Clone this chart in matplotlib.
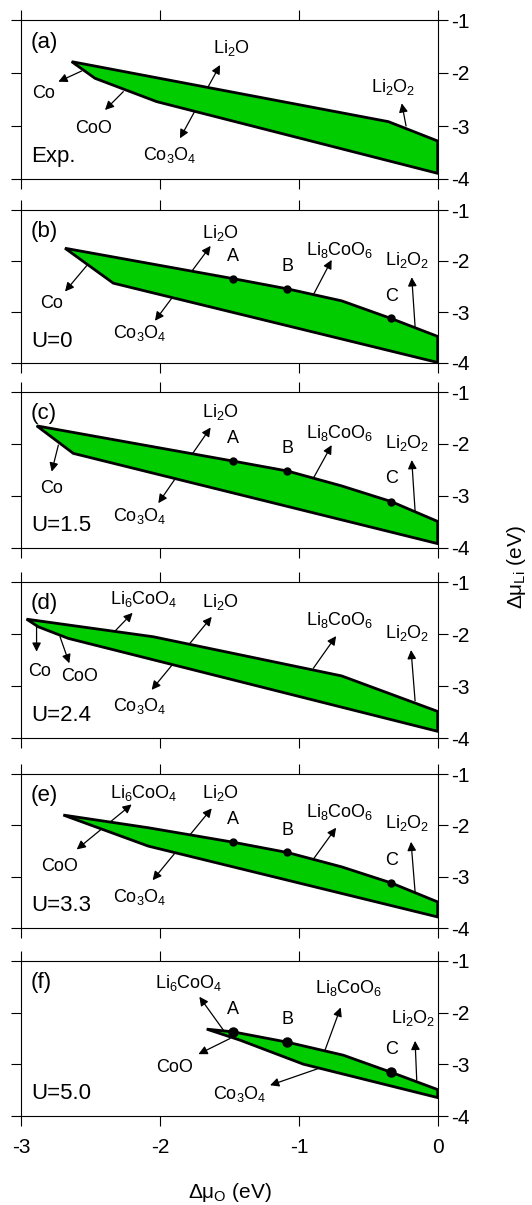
import matplotlib
matplotlib.use("Agg")
import matplotlib.pyplot as plt

plt.rcParams['font.family'] = ['Liberation Sans', 'DejaVu Sans']
plt.rcParams['mathtext.fontset'] = 'custom'
plt.rcParams['mathtext.rm'] = 'Liberation Sans'
plt.rcParams['mathtext.it'] = 'Liberation Sans'
plt.rcParams['axes.unicode_minus'] = False

# ---- data: boundaries of the stable region (upper edge, lower edge) ----
a_top_x = [-2.637, -0.355, 0.0]
a_top_y = [-1.786, -2.918, -3.283]
a_bot_x = [-2.637, -2.469, -2.025, 0.0]
a_bot_y = [-1.786, -2.100, -2.540, -3.893]

b_top_x = [-2.685, -1.477, -1.083, -0.692, -0.336, 0.0]
b_top_y = [-1.750, -2.344, -2.546, -2.781, -3.127, -3.479]
b_bot_x = [-2.685, -2.337, 0.0]
b_bot_y = [-1.750, -2.435, -3.990]

c_top_x = [-2.889, -1.477, -1.083, -0.692, -0.336, 0.0]
c_top_y = [-1.651, -2.327, -2.519, -2.806, -3.106, -3.489]
c_bot_x = [-2.889, -2.625, 0.0]
c_bot_y = [-1.651, -2.181, -3.916]

d_top_x = [-2.962, -2.049, -0.692, 0.0]
d_top_y = [-1.715, -2.053, -2.806, -3.489]
d_bot_x = [-2.962, -2.877, -2.661, 0.0]
d_bot_y = [-1.715, -1.862, -2.085, -3.872]

e_top_x = [-2.697, -2.085, -1.477, -1.083, -0.692, -0.336, 0.0]
e_top_y = [-1.800, -2.047, -2.327, -2.529, -2.809, -3.121, -3.492]
e_bot_x = [-2.697, -2.085, 0.0]
e_bot_y = [-1.800, -2.405, -3.785]

f_top_x = [-1.664, -1.477, -1.083, -0.680, -0.336, 0.0]
f_top_y = [-2.319, -2.370, -2.571, -2.823, -3.153, -3.489]
f_bot_x = [-1.664, -1.424, -0.968, 0.0]
f_bot_y = [-2.319, -2.532, -2.997, -3.644]

# points A, B, C
abc_names = ['A', 'B', 'C']
abc_x = [-1.477, -1.083, -0.336]
b_abc_y = [-2.344, -2.546, -3.127]
c_abc_y = [-2.327, -2.519, -3.106]
e_abc_y = [-2.327, -2.529, -3.121]
f_abc_y = [-2.370, -2.571, -3.153]

panel_tags = ['(a)', '(b)', '(c)', '(d)', '(e)', '(f)']
panel_notes = ['Exp.', 'U=0', 'U=1.5', 'U=2.4', 'U=3.3', 'U=5.0']

LI2O = r'Li$_\mathregular{2}$O'
LI2O2 = r'Li$_\mathregular{2}$O$_\mathregular{2}$'
CO3O4 = r'Co$_\mathregular{3}$O$_\mathregular{4}$'
LI8 = r'Li$_\mathregular{8}$CoO$_\mathregular{6}$'
LI6 = r'Li$_\mathregular{6}$CoO$_\mathregular{4}$'

# text labels (text, x, y)
labels = [
    [('Co', -2.841, -2.384), ('CoO', -2.481, -3.044), (LI2O, -1.484, -1.535),
     (CO3O4, -1.929, -3.547), (LI2O2, -0.319, -2.258)],
    [('Co', -2.781, -2.826), (LI2O, -1.568, -1.444), (CO3O4, -2.145, -3.414),
     (LI8, -0.704, -1.783), (LI2O2, -0.223, -1.978)],
    [('Co', -2.781, -2.851), (LI2O, -1.568, -1.383), (CO3O4, -2.145, -3.393),
     (LI8, -0.704, -1.798), (LI2O2, -0.223, -1.976)],
    [('Co', -2.865, -2.723), ('CoO', -2.577, -2.819), (LI6, -2.121, -1.319),
     (LI2O, -1.568, -1.383), (CO3O4, -2.145, -3.393), (LI8, -0.704, -1.734),
     (LI2O2, -0.223, -1.989)],
    [(LI6, -2.121, -1.377), ('CoO', -2.721, -2.809), (LI2O, -1.568, -1.377),
     (CO3O4, -2.145, -3.394), (LI8, -0.704, -1.735), (LI2O2, -0.223, -1.963)],
    [(LI6, -1.797, -1.433), ('CoO', -1.893, -3.062), (CO3O4, -1.424, -3.579),
     (LI8, -0.644, -1.530), (LI2O2, -0.175, -2.099)],
]

# arrows (tail x, tail y, head x, head y, double-headed?)
arrows = [
    [(-2.565, -1.962, -2.733, -2.164, False), (-2.265, -2.352, -2.397, -2.698, False),
     (-1.857, -3.233, -1.568, -1.849, True), (-0.228, -3.000, -0.259, -2.572, False)],
    [(-2.524, -2.076, -2.685, -2.598, False), (-2.037, -3.172, -1.636, -1.704, True),
     (-0.896, -2.663, -0.764, -1.978, False), (-0.163, -3.283, -0.187, -2.318, False)],
    [(-2.733, -2.021, -2.781, -2.532, False), (-2.013, -3.138, -1.636, -1.683, True),
     (-0.896, -2.659, -0.764, -2.021, False), (-0.163, -3.285, -0.187, -2.308, False)],
    [(-2.890, -1.830, -2.890, -2.340, False), (-2.721, -2.053, -2.654, -2.563, False),
     (-2.325, -1.944, -2.198, -1.593, False), (-2.061, -3.074, -1.628, -1.670, True),
     (-0.896, -2.659, -0.732, -2.040, False), (-0.163, -3.285, -0.192, -2.308, False)],
    [(-2.601, -2.470, -2.205, -1.592, True), (-2.054, -3.069, -1.628, -1.670, True),
     (-0.896, -2.659, -0.732, -2.047, False), (-0.163, -3.297, -0.192, -2.321, False)],
    [(-1.544, -2.338, -1.717, -1.692, False), (-1.496, -2.500, -1.724, -2.803, False),
     (-0.860, -3.081, -1.208, -3.405, False), (-0.812, -2.726, -0.699, -1.899, False),
     (-0.151, -3.308, -0.163, -2.545, False)],
]

tops = [(a_top_x, a_top_y), (b_top_x, b_top_y), (c_top_x, c_top_y),
        (d_top_x, d_top_y), (e_top_x, e_top_y), (f_top_x, f_top_y)]
bots = [(a_bot_x, a_bot_y), (b_bot_x, b_bot_y), (c_bot_x, c_bot_y),
        (d_bot_x, d_bot_y), (e_bot_x, e_bot_y), (f_bot_x, f_bot_y)]
abc_y = [None, b_abc_y, c_abc_y, None, e_abc_y, f_abc_y]
abc_size = [0, 5, 5, 0, 5, 6.5]

# panel pixel extents (top, bottom) in a 532x1205 figure
W, H = 532, 1205
panel_px = [(20, 179), (210, 363), (392, 548), (582, 738), (774, 928), (961, 1116)]
left_px, width_px = 21.3, 416.4

fig = plt.figure(figsize=(W / 100, H / 100), dpi=100)

for i, (t, b) in enumerate(panel_px):
    ax = fig.add_axes([left_px / W, 1 - b / H, width_px / W, (b - t) / H])
    last = i == len(panel_px) - 1

    tx, ty = tops[i]
    bx, by = bots[i]
    px = list(tx) + list(bx[::-1])
    py = list(ty) + list(by[::-1])
    ax.fill(px, py, facecolor='#00cc00', edgecolor='black', lw=2.0,
            joinstyle='miter', zorder=3)

    for (x1, y1, x2, y2, dbl) in arrows[i]:
        ax.annotate('', xy=(x2, y2), xytext=(x1, y1),
                    arrowprops=dict(arrowstyle='<|-|>' if dbl else '-|>',
                                    color='black', lw=0.9, mutation_scale=13,
                                    shrinkA=0, shrinkB=0),
                    zorder=2)

    for (s, x, y) in labels[i]:
        ax.text(x, y, s, fontsize=13, ha='center', va='center', zorder=5)

    if abc_y[i] is not None:
        ax.plot(abc_x, abc_y[i], 'o', color='black', ms=abc_size[i], zorder=4)
        for n, x, y in zip(abc_names, abc_x, abc_y[i]):
            ax.text(x, y + 0.27, n, fontsize=13, ha='center', va='bottom', zorder=5)

    ax.text(-2.93, -1.42, panel_tags[i], fontsize=16, ha='left', va='center')
    ax.text(-2.93, -3.57, panel_notes[i], fontsize=16, ha='left', va='center')

    ax.set_xlim(-3, 0)
    ax.set_ylim(-4, -1)
    ax.set_xticks([-3, -2, -1, 0])
    ax.set_yticks([-4, -3, -2, -1])
    ax.tick_params(axis='both', direction='out', length=7, width=0.8,
                   top=True, bottom=True, left=True, right=True,
                   labelleft=False, labelright=True, labelbottom=last,
                   labelsize=15)
    ax.tick_params(axis='x', pad=9)
    ax.tick_params(axis='y', pad=3)
    for sp in ax.spines.values():
        sp.set_linewidth(0.8)

fig.text(229.5 / W, 1 - 1192 / H, r'$\Delta\mu_\mathregular{O}$ (eV)',
         fontsize=15, ha='center', va='center')
fig.text(517 / W, 1 - 567 / H, r'$\Delta\mu_\mathregular{Li}$ (eV)',
         fontsize=15, ha='center', va='center', rotation=90)

fig.savefig('out.png', dpi=100)
